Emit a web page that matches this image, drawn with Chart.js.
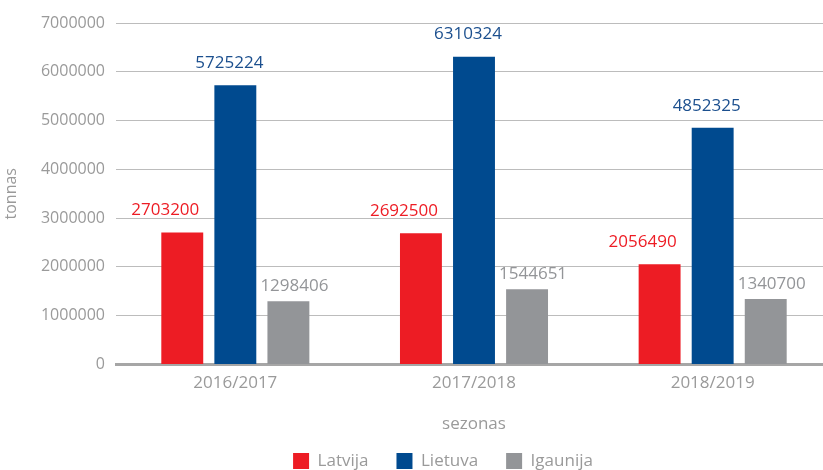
<!DOCTYPE html>
<html>
<head>
<meta charset="utf-8">
<script src="https://cdn.jsdelivr.net/npm/chart.js@4"></script>
<style>
  html, body { margin: 0; padding: 0; background: #fff; overflow: hidden; }
  #wrap { width: 832px; height: 470px; }
</style>
</head>
<body>
<div id="wrap"><canvas id="chart" width="832" height="470"></canvas></div>
<script>
const seasons = ['2016/2017', '2017/2018', '2018/2019'];
const latvija = [2703200, 2692500, 2056490];
const lietuva = [5725224, 6310324, 4852325];
const igaunija = [1298406, 1544651, 1340700];

const grey = '#9a9a9a';
const font = (size) => ({ family: 'Open Sans', size });

// numbers above each bar, same colour as the bar (nudged like the original)
const valueLabels = {
  id: 'valueLabels',
  afterDatasetsDraw(chart) {
    const { ctx } = chart;
    ctx.save();
    ctx.font = '17px "Open Sans"';
    ctx.textAlign = 'center';
    ctx.textBaseline = 'middle';
    chart.data.datasets.forEach((ds, i) => {
      chart.getDatasetMeta(i).data.forEach((bar, j) => {
        ctx.fillStyle = ds.labelColor;
        ctx.fillText(String(ds.data[j]), bar.x + ds.labelDx, bar.y - ds.labelDy);
      });
    });
    ctx.restore();
  },
};

// legend sits a bit right of the canvas centre in the original
const shiftLegend = {
  id: 'shiftLegend',
  afterLayout(chart) {
    chart.legend.left += 27;
    chart.legend.right += 27;
  },
};

const draw = () => {
  new Chart(document.getElementById('chart'), {
    type: 'bar',
    data: {
      labels: seasons,
      datasets: [
        { label: 'Latvija', data: latvija, backgroundColor: '#ED1C24', labelColor: '#ED1C24', labelDx: -17, labelDy: 22 },
        { label: 'Lietuva', data: lietuva, backgroundColor: '#004A8F', labelColor: '#1B4F8E', labelDx: -6, labelDy: 22 },
        { label: 'Igaunija', data: igaunija, backgroundColor: '#939598', labelColor: '#939598', labelDx: 6, labelDy: 15 },
      ],
    },
    options: {
      responsive: false,
      animation: false,
      devicePixelRatio: 1,
      categoryPercentage: 0.667,
      barPercentage: 0.79,
      layout: { padding: { top: 23, left: 0, right: 0, bottom: 0 } },
      plugins: {
        tooltip: { enabled: false },
        legend: {
          position: 'bottom',
          maxHeight: 45.5,
          labels: {
            boxWidth: 16,
            boxHeight: 16,
            padding: 28,
            color: grey,
            font: font(17),
          },
        },
      },
      scales: {
        x: {
          grid: { display: false, drawTicks: false },
          border: { display: true, color: '#a6a6a6', width: 3 },
          ticks: { color: grey, font: font(17), padding: 8 },
          title: {
            display: true,
            text: 'sezonas',
            color: grey,
            font: font(17),
            padding: { top: 0, bottom: -10 },
          },
          afterFit(scale) { scale.height = 60; },
        },
        y: {
          min: 0,
          max: 7000000,
          grid: { color: '#bcbcbc', lineWidth: 1, drawTicks: false },
          border: { display: false },
          ticks: {
            stepSize: 1000000,
            color: grey,
            font: font(16),
            padding: 11,
            callback: (v) => String(v),
          },
          title: {
            display: true,
            text: 'tonnas',
            color: grey,
            font: font(16),
            padding: { top: 2, bottom: 0 },
          },
          afterFit(scale) { scale.width = 116; },
        },
      },
    },
    plugins: [valueLabels, shiftLegend],
  });
};

document.fonts.load('17px "Open Sans"').then(draw, draw);
</script>
</body>
</html>
